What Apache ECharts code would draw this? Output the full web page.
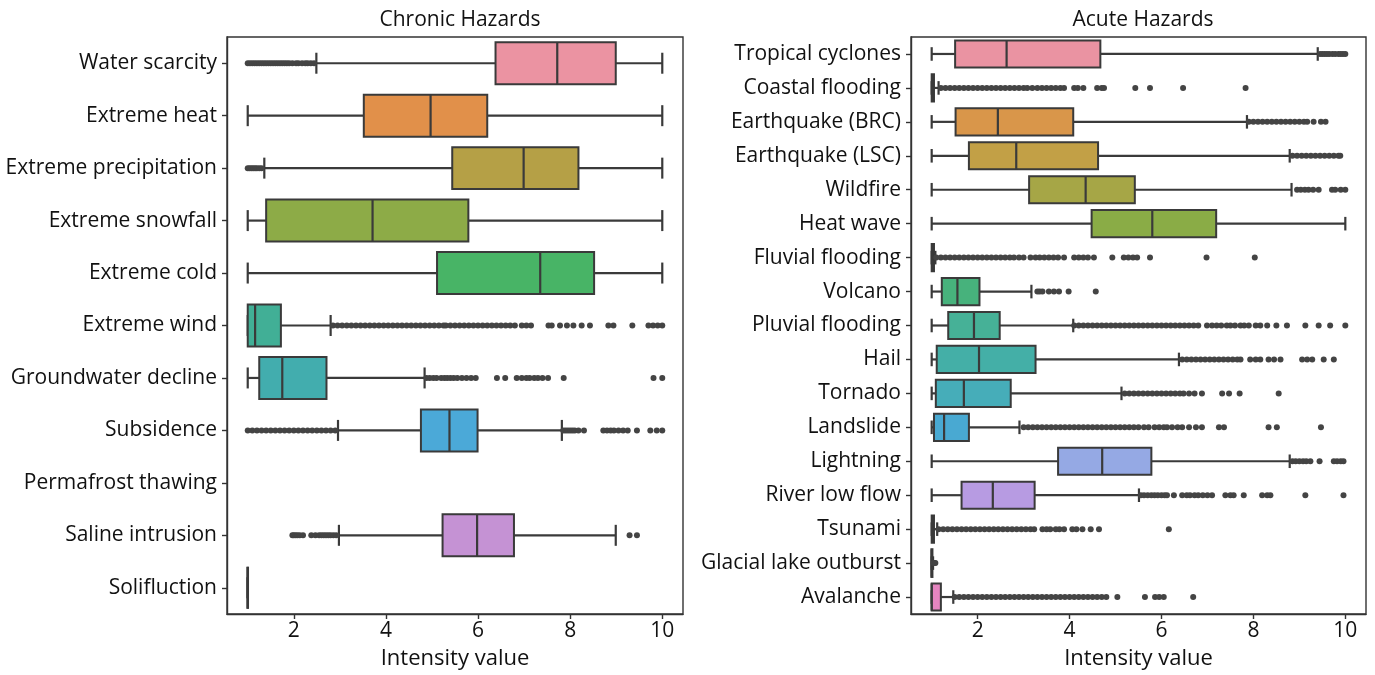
<!DOCTYPE html>
<html>
<head>
<meta charset="utf-8">
<script src="https://cdn.jsdelivr.net/npm/echarts@6/dist/echarts.min.js"></script>
<style>
html,body{margin:0;padding:0;background:#fff;}
#chart{width:1375px;height:675px;}
</style>
</head>
<body>
<div id="chart"></div>
<script>
// ---------------- DATA ----------------
const chronicCategories = ['Water scarcity','Extreme heat','Extreme precipitation','Extreme snowfall','Extreme cold','Extreme wind','Groundwater decline','Subsidence','Permafrost thawing','Saline intrusion','Solifluction'];
// [lower whisker, Q1, median, Q3, upper whisker]
const chronicBoxes = [
  [2.49, 6.38, 7.72, 8.99, 10],
  [1, 3.52, 4.97, 6.2, 10],
  [1.36, 5.44, 6.99, 8.18, 10],
  [1, 1.4, 3.71, 5.79, 10],
  [1, 5.11, 7.35, 8.52, 10],
  [1, 1.0, 1.16, 1.72, 2.8],
  [1, 1.25, 1.75, 2.71, 4.84],
  [2.96, 4.76, 5.38, 5.99, 7.82],
  null,
  [2.98, 5.23, 5.98, 6.78, 8.99],
  [1, 1, 1, 1, 1]
];
const chronicOutliers = [
  [1.0,1.05,1.1,1.15,1.2,1.25,1.3,1.35,1.4,1.45,1.5,1.55,1.6,1.65,1.7,1.75,1.8,1.85,1.9,1.97,2.05,2.1,2.18,2.25,2.3,2.37,2.44],
  [],
  [1.0,1.04,1.08,1.12,1.16,1.2,1.25,1.3],
  [],
  [],
  [2.85,2.95,3.05,3.15,3.25,3.35,3.45,3.55,3.65,3.75,3.85,3.95,4.05,4.15,4.25,4.35,4.45,4.55,4.65,4.75,4.85,4.95,5.05,5.15,5.25,5.3,5.4,5.5,5.6,5.7,5.8,5.9,6.0,6.1,6.2,6.3,6.4,6.5,6.6,6.7,6.8,6.95,7.05,7.15,7.53,7.6,7.78,7.93,8.07,8.25,8.43,8.83,8.94,9.35,9.7,9.8,9.9,10.0],
  [4.88,4.95,5.03,5.1,5.2,5.27,5.33,5.4,5.47,5.55,5.65,5.75,5.85,5.95,6.41,6.59,6.84,6.95,7.05,7.12,7.22,7.3,7.4,7.52,7.86,9.81,10.0],
  [1.0,1.1,1.2,1.3,1.4,1.5,1.6,1.7,1.8,1.9,2.0,2.1,2.2,2.3,2.4,2.5,2.6,2.7,2.8,2.9,7.85,7.9,7.95,8.0,8.05,8.1,8.18,8.3,8.72,8.8,8.88,8.95,9.05,9.15,9.25,9.45,9.74,9.88,10.0],
  [],
  [1.97,2.0,2.04,2.08,2.13,2.2,2.38,2.47,2.55,2.6,2.65,2.7,2.75,2.8,2.86,2.92,9.29,9.45],
  []
];

const acuteCategories = ['Tropical cyclones','Coastal flooding','Earthquake (BRC)','Earthquake (LSC)','Wildfire','Heat wave','Fluvial flooding','Volcano','Pluvial flooding','Hail','Tornado','Landslide','Lightning','River low flow','Tsunami','Glacial lake outburst','Avalanche'];
const acuteBoxes = [
  [1, 1.51, 2.63, 4.67, 9.4],
  [1, 1.0, 1.02, 1.05, 1.15],
  [1, 1.52, 2.44, 4.08, 7.86],
  [1, 1.81, 2.84, 4.62, 8.79],
  [1, 3.12, 4.35, 5.42, 8.83],
  [1, 4.48, 5.8, 7.19, 10],
  [1, 1.0, 1.02, 1.05, 1.08],
  [1, 1.22, 1.56, 2.04, 3.17],
  [1, 1.36, 1.92, 2.48, 4.08],
  [1, 1.11, 2.03, 3.26, 6.38],
  [1, 1.09, 1.7, 2.72, 5.13],
  [1, 1.05, 1.27, 1.81, 2.91],
  [1, 3.75, 4.71, 5.78, 8.79],
  [1, 1.65, 2.33, 3.24, 5.51],
  [1, 1.0, 1.02, 1.05, 1.12],
  [1, 1.0, 1.0, 1.01, 1.03],
  [1, 1.0, 1.0, 1.2, 1.47]
];
const acuteOutliers = [
  [9.45,9.5,9.55,9.6,9.65,9.72,9.78,9.85,9.9,9.95,10.0],
  [1.2,1.3,1.4,1.5,1.6,1.7,1.8,1.9,2.0,2.1,2.2,2.3,2.4,2.5,2.6,2.7,2.8,2.9,3.0,3.08,3.19,3.3,3.4,3.5,3.6,3.7,3.8,3.88,4.1,4.18,4.3,4.6,4.7,4.75,5.43,5.75,6.47,7.83],
  [7.9,8.0,8.1,8.2,8.3,8.4,8.5,8.6,8.7,8.8,8.9,9.0,9.1,9.17,9.31,9.47,9.57],
  [8.85,8.95,9.05,9.15,9.25,9.35,9.45,9.55,9.65,9.75,9.85,9.89],
  [8.95,9.03,9.12,9.2,9.3,9.42,9.71,9.78,9.9,10.0],
  [],
  [1.1,1.2,1.3,1.4,1.5,1.6,1.7,1.8,1.9,2.0,2.1,2.2,2.3,2.4,2.5,2.6,2.7,2.79,2.9,3.0,3.15,3.26,3.35,3.45,3.55,3.65,3.75,3.88,4.1,4.2,4.3,4.4,4.53,4.93,5.18,5.28,5.38,5.47,5.75,6.98,8.03],
  [3.3,3.35,3.41,3.55,3.66,3.77,3.98,4.57],
  [4.1,4.2,4.3,4.4,4.5,4.6,4.7,4.8,4.9,5.0,5.1,5.2,5.3,5.4,5.5,5.6,5.7,5.8,5.9,6.0,6.1,6.2,6.3,6.4,6.5,6.6,6.7,6.8,6.99,7.1,7.2,7.3,7.42,7.5,7.6,7.72,7.8,7.9,8.05,8.15,8.3,8.5,8.73,9.13,9.42,9.67,10.0],
  [6.45,6.55,6.65,6.75,6.85,6.95,7.05,7.15,7.25,7.35,7.45,7.55,7.65,7.72,7.93,8.05,8.15,8.33,8.45,8.59,9.06,9.17,9.28,9.53,9.75],
  [5.2,5.3,5.4,5.5,5.6,5.7,5.8,5.9,6.0,6.1,6.2,6.3,6.4,6.48,6.6,6.72,6.88,7.32,7.47,7.7,8.55],
  [3.0,3.1,3.2,3.3,3.4,3.5,3.6,3.7,3.8,3.9,4.0,4.1,4.2,4.3,4.4,4.5,4.6,4.7,4.8,4.9,5.0,5.1,5.2,5.3,5.4,5.5,5.62,5.72,5.85,5.95,6.05,6.12,6.23,6.35,6.45,6.6,6.75,6.88,7.25,7.36,8.33,8.51,9.47],
  [8.85,8.92,9.0,9.08,9.15,9.24,9.44,9.75,9.82,9.9,9.96],
  [5.55,5.62,5.7,5.78,5.85,5.92,6.0,6.07,6.12,6.27,6.45,6.55,6.62,6.72,6.8,6.9,7.0,7.1,7.39,7.5,7.57,7.79,8.19,8.3,8.37,9.13,9.96],
  [1.15,1.25,1.35,1.45,1.55,1.65,1.75,1.85,1.95,2.05,2.15,2.25,2.35,2.45,2.55,2.65,2.75,2.85,2.95,3.05,3.15,3.23,3.41,3.5,3.58,3.7,3.78,3.88,4.06,4.15,4.28,4.46,4.64,6.16],
  [1.04,1.06,1.08],
  [1.5,1.6,1.7,1.8,1.9,2.0,2.1,2.2,2.3,2.4,2.5,2.6,2.7,2.8,2.9,3.0,3.1,3.2,3.3,3.4,3.5,3.6,3.7,3.8,3.9,4.0,4.1,4.2,4.3,4.4,4.5,4.6,4.7,4.8,5.04,5.64,5.86,5.95,6.05,6.69]
];
const xTicks = [2, 4, 6, 8, 10];
const panelTitles = ['Chronic Hazards', 'Acute Hazards'];
const xAxisTitle = 'Intensity value';

// ---------------- STYLE ----------------
const chronicColors = ['#eb93a2','#e1904a','#b5a046','#8dab47','#48b466','#41af96','#42adae','#4ba9d8','#8fa0e6','#c592d4','#e78ac8'];
const acuteColors = ['#ea93a2','#cf8a80','#d9964a','#c2a046','#a6a646','#8aac46','#55b059','#47b27c','#46b197','#44afa7','#46adb9','#49a9d2','#95a9e4','#b79be2','#d292dc','#e08fcd','#e585c0'];
const LINE = '#3a3a3a';
const TEXT = '#111111';
const FONT = '"Open Sans", "Noto Sans", sans-serif';

function boxData(boxes, colors) {
  const out = [];
  boxes.forEach((b, i) => {
    if (!b) return;
    out.push({ value: [i].concat(b), itemStyle: { color: colors[i] } });
  });
  return out;
}
function outlierData(lists) {
  const out = [];
  lists.forEach((arr, i) => arr.forEach(v => out.push([v, i])));
  return out;
}
function renderBox(params, api) {
  const cat = api.value(0);
  const vals = [1,2,3,4,5].map(k => api.value(k));
  const pts = vals.map(v => api.coord([v, cat]));
  const band = api.size([0, 1])[1];
  const h = band * 0.8, cap = h * 0.5;
  const y = pts[0][1];
  const color = api.visual('color');
  const ls = { stroke: LINE, lineWidth: 2.2 };
  const w = pts[3][0] - pts[1][0];
  return {
    type: 'group',
    children: [
      { type: 'line', shape: { x1: pts[0][0], y1: y, x2: pts[1][0], y2: y }, style: ls },
      { type: 'line', shape: { x1: pts[3][0], y1: y, x2: pts[4][0], y2: y }, style: ls },
      { type: 'line', shape: { x1: pts[0][0], y1: y - cap / 2, x2: pts[0][0], y2: y + cap / 2 }, style: ls },
      { type: 'line', shape: { x1: pts[4][0], y1: y - cap / 2, x2: pts[4][0], y2: y + cap / 2 }, style: ls },
      { type: 'rect', shape: { x: pts[1][0], y: y - h / 2, width: w, height: h },
        style: { fill: color, stroke: LINE, lineWidth: w < 1 ? 2.6 : 2 } },
      { type: 'line', shape: { x1: pts[2][0], y1: y - h / 2, x2: pts[2][0], y2: y + h / 2 }, style: ls }
    ]
  };
}

function xAxisCfg(idx) {
  return {
    type: 'value', gridIndex: idx, min: 0.55, max: 10.45,
    name: xAxisTitle, nameLocation: 'middle', nameGap: 34,
    nameTextStyle: { fontSize: 22, color: TEXT, fontFamily: FONT },
    axisLine: { show: true, lineStyle: { color: '#333', width: 1.4 } },
    axisTick: { show: true, length: 5, lineStyle: { color: '#333', width: 1.4 }, customValues: xTicks },
    axisLabel: { fontSize: 21, color: TEXT, fontFamily: FONT, margin: 7, customValues: xTicks },
    splitLine: { show: false }
  };
}
function yAxisCfg(idx, cats) {
  return {
    type: 'category', gridIndex: idx, data: cats, inverse: true,
    axisLine: { show: true, lineStyle: { color: '#333', width: 1.4 } },
    axisTick: { show: true, length: 5, alignWithLabel: true, lineStyle: { color: '#333', width: 1.4 } },
    axisLabel: { fontSize: 21, color: TEXT, fontFamily: FONT, margin: 10, interval: 0 },
    splitLine: { show: false }
  };
}

const chart = echarts.init(document.getElementById('chart'), null, { renderer: 'canvas' });
chart.setOption({
  backgroundColor: '#ffffff',
  animation: false,
  title: [
    { text: panelTitles[0], left: 455, top: 5, textAlign: 'center',
      textStyle: { fontSize: 21, fontWeight: 'normal', color: TEXT, fontFamily: FONT } },
    { text: panelTitles[1], left: 1138, top: 5, textAlign: 'center',
      textStyle: { fontSize: 21, fontWeight: 'normal', color: TEXT, fontFamily: FONT } }
  ],
  grid: [
    { left: 227, right: 692, top: 37, bottom: 61, show: true, borderColor: '#333', borderWidth: 1.4, backgroundColor: 'transparent' },
    { left: 911, right: 9, top: 37, bottom: 61, show: true, borderColor: '#333', borderWidth: 1.4, backgroundColor: 'transparent' }
  ],
  xAxis: [xAxisCfg(0), xAxisCfg(1)],
  yAxis: [yAxisCfg(0, chronicCategories), yAxisCfg(1, acuteCategories)],
  series: [
    { type: 'custom', xAxisIndex: 0, yAxisIndex: 0, renderItem: renderBox, data: boxData(chronicBoxes, chronicColors), encode: { x: [1,2,3,4,5], y: 0 }, z: 2 },
    { type: 'custom', xAxisIndex: 1, yAxisIndex: 1, renderItem: renderBox, data: boxData(acuteBoxes, acuteColors), encode: { x: [1,2,3,4,5], y: 0 }, z: 2 },
    { type: 'scatter', xAxisIndex: 0, yAxisIndex: 0, data: outlierData(chronicOutliers), symbol: 'circle', symbolSize: 6, itemStyle: { color: '#444', opacity: 1 }, z: 3 },
    { type: 'scatter', xAxisIndex: 1, yAxisIndex: 1, data: outlierData(acuteOutliers), symbol: 'circle', symbolSize: 6, itemStyle: { color: '#444', opacity: 1 }, z: 3 }
  ]
});
</script>
</body>
</html>
